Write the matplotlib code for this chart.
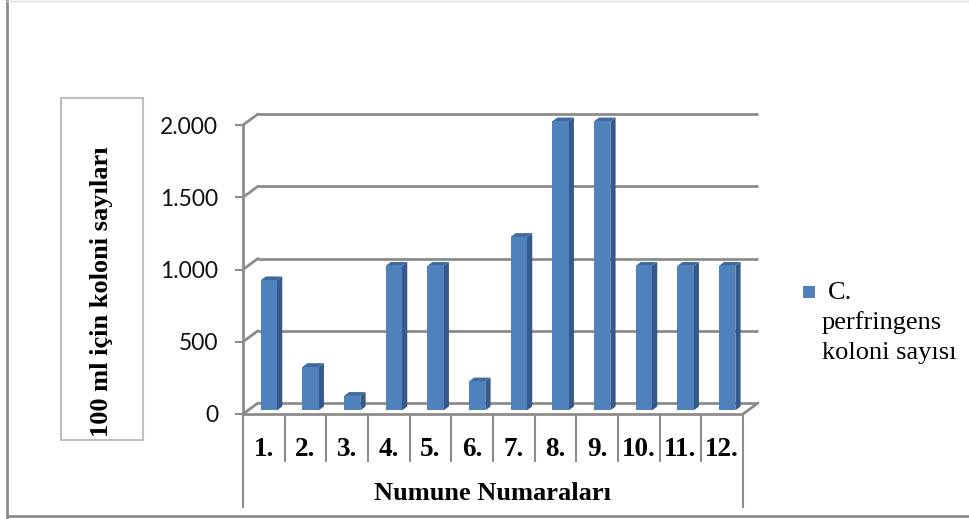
import matplotlib
matplotlib.use("Agg")
import matplotlib.pyplot as plt
from matplotlib.patches import Polygon, Rectangle, ConnectionPatch
from matplotlib.lines import Line2D
from matplotlib.transforms import IdentityTransform, offset_copy
import numpy as np

categories = ["1.", "2.", "3.", "4.", "5.", "6.", "7.", "8.", "9.", "10.", "11.", "12."]
counts = [900, 300, 100, 1000, 1000, 200, 1200, 2000, 2000, 1000, 1000, 1000]
yticks = [0, 500, 1000, 1500, 2000]
ytick_labels = ["0", "500", "1.000", "1.500", "2.000"]
series_lines = ["C.", "perfringens", "koloni sayısı"]
xlabel = "Numune Numaraları"
ylabel = "100 ml için koloni sayıları"

W, H = 969, 519
fig = plt.figure(figsize=(W / 100, H / 100), dpi=100)

# front plane of the 3d plot, in pixels
left, right, bottom, top = 243, 743, 414, 125
ax = fig.add_axes([left / W, (H - bottom) / H, (right - left) / W, (bottom - top) / H])
ax.set_xlim(-0.5, len(categories) - 0.5)
ax.set_ylim(0, 2000)
ax.patch.set_visible(False)
for s in ax.spines.values():
    s.set_visible(False)

grid_col = "#8c8c8c"
dx, dy = 15, 11  # depth of the 3d box in pixels

# axis ticks / labels
ax.set_xticks([])
ax.set_yticks(yticks)
ax.set_yticklabels(ytick_labels, fontfamily="Lato", fontsize=16.5, color="#111111")
ax.tick_params(axis="y", length=6, width=1.5, color=grid_col, pad=12)
ax.spines["left"].set_visible(True)
ax.spines["left"].set_color(grid_col)
ax.spines["left"].set_linewidth(2)

back = offset_copy(ax.transData, fig, x=dx, y=dy, units="dots")

# back wall gridlines + side-wall diagonals
ax.hlines(yticks, -0.5, len(categories) - 0.5, colors=grid_col, lw=2, transform=back, clip_on=False)
for v in yticks:
    con = ConnectionPatch(xyA=(-0.5, v), coordsA=ax.transData, xyB=(-0.5, v), coordsB=back,
                          color=grid_col, lw=2)
    fig.add_artist(con)

# floor front edge + right diagonal
ax.hlines([0], -0.5, len(categories) - 0.5, colors=grid_col, lw=2, clip_on=False)
con = ConnectionPatch(xyA=(len(categories) - 0.5, 0), coordsA=ax.transData,
                      xyB=(len(categories) - 0.5, 0), coordsB=back, color=grid_col, lw=2)
fig.add_artist(con)

# 3d bars
bw = 0.395
f1, f2 = 0.33, 0.68
front_col, side_col, top_col = "#4F81BD", "#34598A", "#3E6A9E"
x = np.arange(len(categories))
for xi, v in zip(x, counts):
    p = lambda xx, yy, f: ax.transData.transform((xx, yy)) + np.array([dx * f, dy * f])
    fl, fr = xi - bw / 2, xi + bw / 2
    face = [p(fl, 0, f1), p(fr, 0, f1), p(fr, v, f1), p(fl, v, f1)]
    side = [p(fr, 0, f1), p(fr, 0, f2), p(fr, v, f2), p(fr, v, f1)]
    tp = [p(fl, v, f1), p(fr, v, f1), p(fr, v, f2), p(fl, v, f2)]
    for pts, c in [(side, side_col), (tp, top_col), (face, front_col)]:
        fig.add_artist(Polygon(pts, closed=True, facecolor=c, edgecolor="none",
                               transform=IdentityTransform(), zorder=3))

# category table under the axis
xt = ax.get_xaxis_transform()
sep_len = 48 / (bottom - top)
out_len = 94 / (bottom - top)
edges = np.arange(len(categories) + 1) - 0.5
ax.vlines(edges[1:-1], -sep_len, 0, colors=grid_col, lw=1.5, transform=xt, clip_on=False)
ax.vlines([edges[0], edges[-1]], -out_len, 0, colors=grid_col, lw=1.5, transform=xt, clip_on=False)
for xi, lab in zip(x, categories):
    ax.text(xi, -35 / (bottom - top), lab, transform=xt, ha="center", va="center",
            fontfamily="Liberation Serif", fontweight="bold", fontsize=19.5)
ax.text((len(categories) - 1) / 2, -80 / (bottom - top), xlabel, transform=xt, ha="center",
        va="center", fontfamily="Liberation Serif", fontweight="bold", fontsize=19)

# y label in a box
fig.add_artist(Rectangle((61 / W, 1 - 440 / H), 82 / W, 342 / H, transform=fig.transFigure,
                         facecolor="none", edgecolor="#BFBFBF", lw=1.5))
fig.text(102 / W, 1 - 292 / H, ylabel, rotation=90, ha="center", va="center",
         fontfamily="Liberation Serif", fontweight="bold", fontsize=19)

# legend
fig.add_artist(Rectangle((803 / W, 1 - 298 / H), 12 / W, 12 / H, transform=fig.transFigure,
                         facecolor=front_col, edgecolor="none"))
for i, (line, ypx) in enumerate(zip(series_lines, [293, 323, 353])):
    fig.text((828 if i == 0 else 822) / W, 1 - ypx / H, line, ha="left", va="center",
             fontfamily="Liberation Serif", fontsize=19)

# outer chart border
fig.add_artist(Line2D([7 / W, 7 / W], [0, 1], color="#8c8c8c", lw=2, transform=fig.transFigure))
fig.add_artist(Line2D([7 / W, 1], [1 - 516 / H, 1 - 516 / H], color="#8c8c8c", lw=2, transform=fig.transFigure))
fig.add_artist(Line2D([7 / W, 1], [1 - 0.5 / H, 1 - 0.5 / H], color="#dddddd", lw=1, transform=fig.transFigure))

fig.savefig("out.png", dpi=100)
